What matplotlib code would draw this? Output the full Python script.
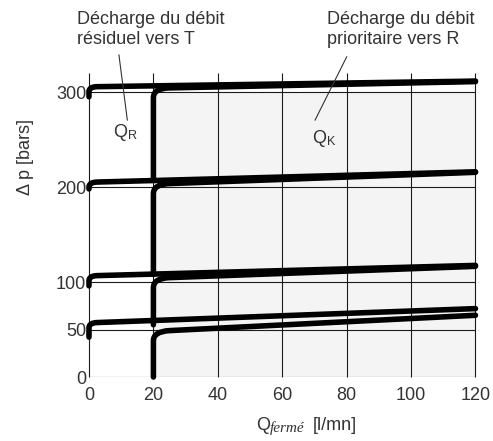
import matplotlib
matplotlib.use("Agg")
import matplotlib.pyplot as plt
from matplotlib.path import Path
from matplotlib.patches import PathPatch

plt.rcParams["font.family"] = ["Liberation Sans", "DejaVu Sans"]
plt.rcParams["mathtext.fontset"] = "custom"
plt.rcParams["mathtext.rm"] = "Liberation Sans"
plt.rcParams["mathtext.it"] = "Liberation Serif:italic"

# débit (l/mn) et pression (bars)
q_grid = [0, 20, 40, 60, 80, 100, 120]
p_grid = [0, 50, 100, 200, 300]
q_max = 120
p_top = 320
p_zone = 300  # limite haute de la zone grisée

# courbes Q_R : décharge du débit résiduel, départ à Q = 0
qr_x0 = 0
qr_start = [42, 96, 198, 295]
qr_knee = [57, 106.5, 205, 305.5]
qr_end = [72, 117.5, 216, 311.5]

# courbes Q_K : débit prioritaire, départ à Q = 20
qk_x0 = 20
qk_start = [0, 55, 108, 208]
qk_knee = [48, 104, 203, 304]
qk_end = [65, 116.5, 215.5, 311]

TXT = "#333333"
FS = 13


def curve(ax, x0, y0, knee, y_end, dx, dy):
    # montée verticale, coude arrondi, puis droite jusqu'à q_max
    y_bend = knee + (y_end - knee) * dx / (q_max - x0)
    verts = [(x0, y0), (x0, knee - dy), (x0, knee), (x0 + dx, y_bend), (q_max, y_end)]
    codes = [Path.MOVETO, Path.LINETO, Path.CURVE3, Path.CURVE3, Path.LINETO]
    patch = PathPatch(Path(verts, codes), fill=False, edgecolor="black", lw=4.0,
                      capstyle="round", joinstyle="round", zorder=3, clip_on=False)
    ax.add_patch(patch)


fig = plt.figure(figsize=(4.93, 4.41), dpi=100)
ax = fig.add_axes([0.1805, 0.1451, 0.784, 0.6893])
ax.set_xlim(0, q_max)
ax.set_ylim(0, p_top)

ax.fill_between([qk_x0, q_max], 0, p_zone, color="#f4f4f4", lw=0, zorder=0)
ax.hlines(p_grid, 0, q_max, color="#1a1a1a", lw=0.8, zorder=1)
ax.vlines(q_grid, 0, p_top, color="#1a1a1a", lw=0.8, zorder=1, clip_on=False)

for s, k, e in zip(qr_start, qr_knee, qr_end):
    curve(ax, qr_x0, s, k, e, 2.5, 5)
for s, k, e in zip(qk_start, qk_knee, qk_end):
    curve(ax, qk_x0, s, k, e, 5, 10)

for sp in ax.spines.values():
    sp.set_visible(False)
ax.set_xticks(q_grid)
ax.set_yticks(p_grid)
ax.tick_params(length=0, labelsize=FS, colors=TXT)
ax.tick_params(axis="x", pad=7)
ax.tick_params(axis="y", pad=2)

# légendes des courbes
ax.text(-3.8, 385, "Décharge du débit\nrésiduel vers T", fontsize=FS, color=TXT,
        va="top", ha="left", linespacing=1.2, clip_on=False)
ax.text(74, 385, "Décharge du débit\nprioritaire vers R", fontsize=FS, color=TXT,
        va="top", ha="left", linespacing=1.2, clip_on=False)
ax.plot([9.3, 11.9], [339, 270.5], color="#333333", lw=0.8, clip_on=False, zorder=4)
ax.plot([80, 70.2], [337, 270.5], color="#333333", lw=0.8, clip_on=False, zorder=4)
ax.text(11.2, 257, r"Q$_\mathrm{R}$", fontsize=FS, color=TXT, ha="center", va="center")
ax.text(73, 251.5, r"Q$_\mathrm{K}$", fontsize=FS, color=TXT, ha="center", va="center")

fig.text(25 / 493, 1 - 157 / 441, "Δ p [bars]", rotation=90, fontsize=FS,
         color=TXT, ha="center", va="center")

# titre de l'axe x : Q + indice "fermé" en italique
fig.text(256 / 493, 1 - 430 / 441, "Q", fontsize=FS, color=TXT, ha="left", va="baseline")
fig.text(270 / 493, 1 - 432 / 441, "fermé", fontsize=11, color=TXT, ha="left",
         va="baseline", family="Liberation Serif", style="italic")
fig.text(313 / 493, 1 - 430 / 441, "[l/mn]", fontsize=FS, color=TXT, ha="left", va="baseline")

fig.savefig("out.png", dpi=100)
